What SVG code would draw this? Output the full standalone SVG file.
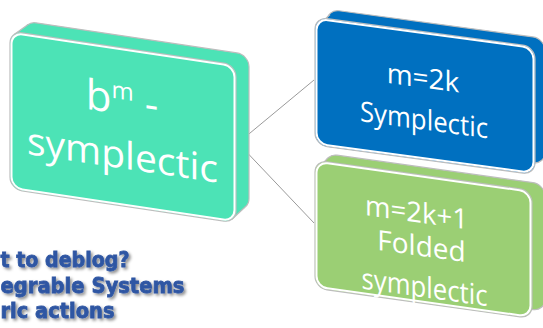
<svg xmlns="http://www.w3.org/2000/svg" width="543" height="328" viewBox="0 0 543 328">
<style>
.edge{stroke:#bdbdbd;stroke-width:1.2}
.front{stroke:#ffffff;stroke-width:2}
.lbl{font-family:"Open Sans","Liberation Sans",sans-serif;fill:#ffffff;text-anchor:middle}
.conn{stroke:#9a9a9a;stroke-width:1;fill:none}
.side{font-family:"DejaVu Sans","Liberation Sans",sans-serif;font-weight:bold;font-size:21px;fill:#2f56a3;stroke:#2f56a3;stroke-width:0.8}
</style>
<defs>
<filter id="sh" x="-10%" y="-40%" width="130%" height="190%">
<feGaussianBlur in="SourceAlpha" stdDeviation="1.6"/>
<feOffset dx="2" dy="2" result="b"/>
<feFlood flood-color="#000000" flood-opacity="0.45"/>
<feComposite in2="b" operator="in"/>
<feMerge><feMergeNode/><feMergeNode in="SourceGraphic"/></feMerge>
</filter>
</defs>
<g id="connectors">
<line class="conn" x1="238" y1="143" x2="314" y2="80"/>
<line class="conn" x1="238" y1="143" x2="314" y2="223"/>
</g>
<g id="node-bm" transform="matrix(1,0.15,0,1,0,0)">
<rect class="edge" x="24" y="17.4" width="225" height="156" rx="12" fill="#4ce3b6"/>
<polygon points="14.15,32.4 28.15,20.3 36,29.4 22,41.5" fill="#4ce3b6"/>
<polygon points="231.85,184.6 244.85,170.5 237,161.4 224,175.5" fill="#4ce3b6"/>
<line class="edge" x1="14.15" y1="32.4" x2="28.15" y2="20.3"/>
<line class="edge" x1="231.85" y1="184.6" x2="244.85" y2="170.5"/>
<rect class="edge" x="10" y="29.5" width="226" height="158" rx="12" fill="#4ce3b6"/>
<rect class="front" x="11.5" y="31" width="223" height="155" rx="11" fill="#4ce3b6"/>
<text class="lbl" x="122" y="96" font-size="42">b<tspan font-size="24" dy="-15">m</tspan><tspan dy="15"> -</tspan></text>
<text class="lbl" x="122.5" y="150" font-size="38" textLength="191" lengthAdjust="spacingAndGlyphs">symplectic</text>
</g>
<g id="node-even" transform="matrix(1,0.135,0,1,0,0)">
<rect class="edge" x="327" y="-35" width="218" height="126" rx="12" fill="#0070c0"/>
<polygon points="318,-17 330,-30 339,-23 327,-13" fill="#0070c0"/>
<line class="edge" x1="318" y1="-17" x2="330" y2="-30"/>
<rect class="edge" x="315" y="-25.5" width="220" height="128" rx="12" fill="#0070c0"/>
<rect class="front" x="316.5" y="-24" width="217" height="125" rx="11" fill="#0070c0"/>
<text class="lbl" x="423" y="30.5" font-size="28">m=2k</text>
<text class="lbl" x="424" y="72.5" font-size="28" textLength="128" lengthAdjust="spacingAndGlyphs">Symplectic</text>
</g>
<g id="node-odd" transform="matrix(1,0.14,0,1,0,0)">
<rect class="edge" x="325" y="108" width="220" height="127" rx="12" fill="#9bcf74"/>
<polygon points="317,125 328,112 337,119 327,129" fill="#9bcf74"/>
<line class="edge" x1="317" y1="125" x2="328" y2="112"/>
<rect class="edge" x="315" y="116" width="217" height="128" rx="12" fill="#9bcf74"/>
<rect class="front" x="316.5" y="117.5" width="214" height="125" rx="11" fill="#9bcf74"/>
<text class="lbl" x="416.5" y="164" font-size="28" textLength="103" lengthAdjust="spacingAndGlyphs">m=2k+1</text>
<text class="lbl" x="421.5" y="197" font-size="28">Folded</text>
<text class="lbl" x="424.5" y="238" font-size="29" textLength="126" lengthAdjust="spacingAndGlyphs">symplectic</text>
</g>
<g id="side-text" filter="url(#sh)">
<text class="side" x="0.5" y="267" textLength="129" lengthAdjust="spacingAndGlyphs">t to deblog?</text>
<text class="side" x="0.5" y="293" textLength="184" lengthAdjust="spacingAndGlyphs">egrable Systems</text>
<text class="side" x="0.5" y="318" textLength="114" lengthAdjust="spacingAndGlyphs">ric actions</text>
</g>
</svg>
